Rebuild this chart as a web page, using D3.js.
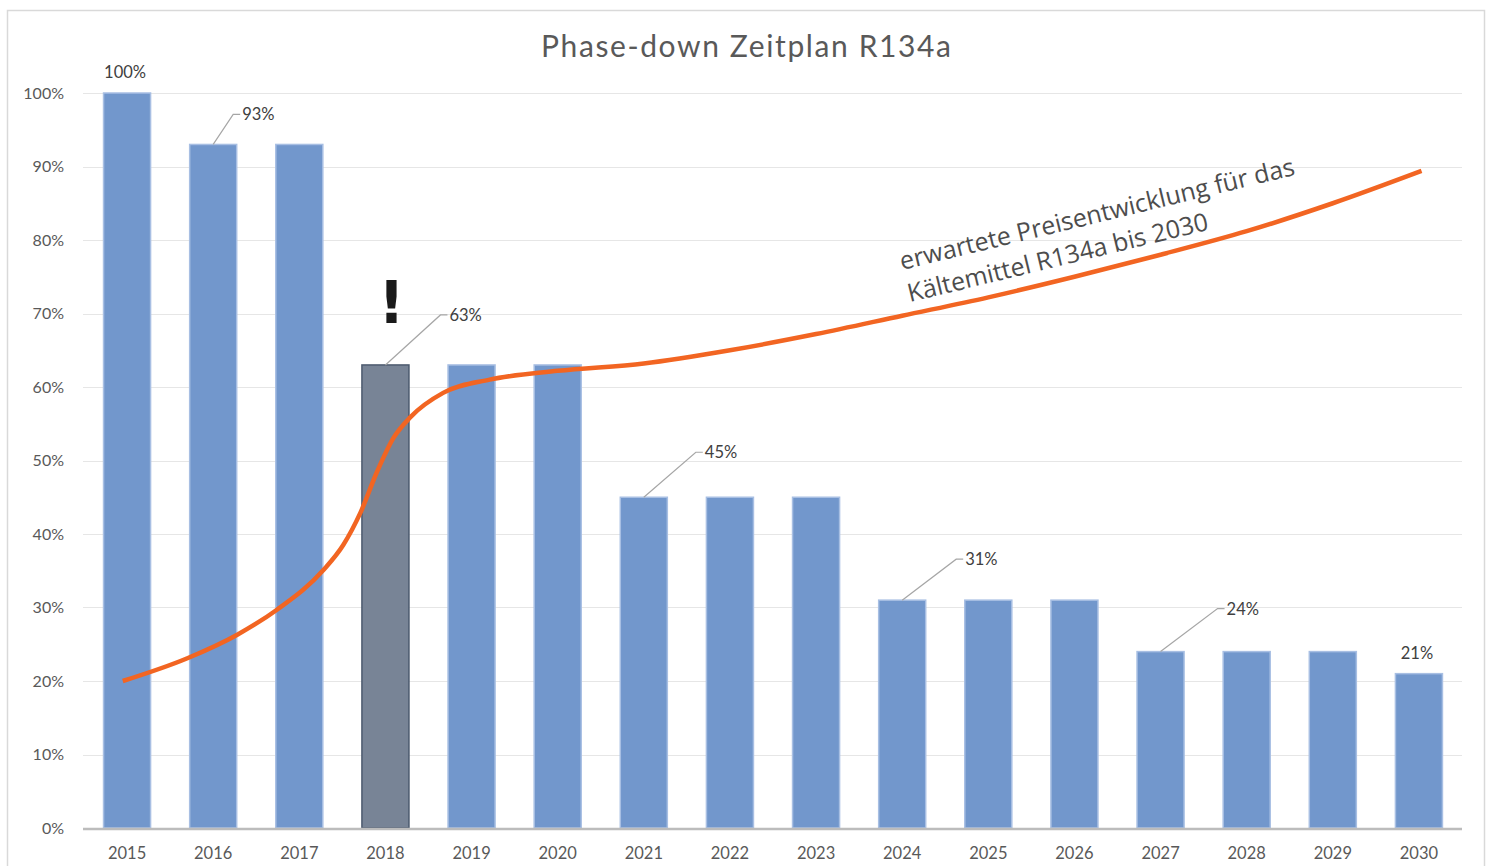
<!DOCTYPE html>
<html>
<head>
<meta charset="utf-8">
<script src="https://cdn.jsdelivr.net/npm/d3@7"></script>
<style>
  body { margin: 0; background: #fff; }
  svg { display: block; }
</style>
</head>
<body>
<div class="chart"></div>
<script>
// Data
const years = [2015, 2016, 2017, 2018, 2019, 2020, 2021, 2022, 2023, 2024, 2025, 2026, 2027, 2028, 2029, 2030];
const quota = [1.00, 0.93, 0.93, 0.63, 0.63, 0.63, 0.45, 0.45, 0.45, 0.31, 0.31, 0.31, 0.24, 0.24, 0.24, 0.21];
const highlightYear = 2018;

// expected price curve (year, share of axis)
const priceYears = [2014.95, 2015.7, 2016.28, 2016.74, 2017.28, 2017.51, 2017.71, 2017.9, 2018.09, 2018.29, 2018.67, 2019.21, 2020, 2021, 2022, 2023, 2024, 2025, 2026, 2027, 2028, 2029, 2030.03];
const priceValues = [0.200, 0.231, 0.263, 0.297, 0.351, 0.385, 0.429, 0.484, 0.530, 0.559, 0.592, 0.610, 0.622, 0.632, 0.650, 0.672, 0.697, 0.722, 0.750, 0.780, 0.812, 0.850, 0.894];

const yTicks = [0, 0.1, 0.2, 0.3, 0.4, 0.5, 0.6, 0.7, 0.8, 0.9, 1.0];
const labelledYears = [2015, 2016, 2018, 2021, 2024, 2027, 2030];

const titleText = "Phase-down Zeitplan R134a";
const noteLines = ["erwartete Preisentwicklung für das", "Kältemittel R134a bis 2030"];

// Layout
const svgWidth = 1486;
const svgHeight = 866;
const plot = { left: 84, right: 1462, top: 93, bottom: 828 };

const svg = d3.select(".chart")
    .append("svg")
    .attr("width", svgWidth)
    .attr("height", svgHeight);

// outer frame
svg.append("rect")
    .attr("x", 7.5).attr("y", 10.5)
    .attr("width", 1477).attr("height", 870)
    .attr("fill", "#fff")
    .attr("stroke", "#d9d9d9")
    .attr("stroke-width", 1.5);

// scales
const x = d3.scaleBand()
    .domain(years)
    .range([plot.left, plot.right])
    .paddingInner(0.454)
    .paddingOuter(0.227);

const bw = x.bandwidth();

const xLin = d3.scaleLinear()
    .domain([years[0], years[years.length - 1]])
    .range([x(years[0]) + bw / 2, x(years[years.length - 1]) + bw / 2]);

const y = d3.scaleLinear()
    .domain([0, 1])
    .range([plot.bottom, plot.top]);

// gridlines
svg.append("g")
    .selectAll("line")
    .data(yTicks.slice(1))
    .enter()
    .append("line")
    .attr("x1", plot.left - 1)
    .attr("x2", plot.right)
    .attr("y1", d => Math.round(y(d)) + 0.5)
    .attr("y2", d => Math.round(y(d)) + 0.5)
    .attr("stroke", "#e6e6e6")
    .attr("stroke-width", 1.2);

// y axis labels
const yAxis = d3.axisLeft(y)
    .tickValues(yTicks)
    .tickFormat(d3.format(".0%"))
    .tickSize(0)
    .tickPadding(0);

const yg = svg.append("g")
    .attr("transform", `translate(64,0)`)
    .call(yAxis);
yg.select(".domain").remove();
yg.selectAll("text")
    .attr("font-family", "Lato, 'Open Sans', sans-serif")
    .attr("font-size", "16px")
    .attr("fill", "#595959");

// bars
svg.append("g")
    .selectAll("rect")
    .data(years)
    .enter()
    .append("rect")
    .attr("x", d => x(d))
    .attr("y", (d, i) => y(quota[i]))
    .attr("width", bw)
    .attr("height", (d, i) => y(0) - y(quota[i]))
    .attr("fill", d => d === highlightYear ? "#788496" : "#7297cc")
    .attr("stroke", d => d === highlightYear ? "#4c5a6e" : "#a8bfe3")
    .attr("stroke-width", 1.5);

// x axis
const xAxis = d3.axisBottom(x).tickSize(0).tickPadding(0);
const xg = svg.append("g")
    .attr("transform", `translate(0, ${plot.bottom})`)
    .call(xAxis);
xg.select(".domain").remove();
xg.selectAll("text")
    .attr("dy", null)
    .attr("y", 31)
    .attr("font-family", "Lato, 'Open Sans', sans-serif")
    .attr("font-size", "16.5px")
    .attr("fill", "#595959");

svg.append("line")
    .attr("x1", plot.left - 1)
    .attr("x2", plot.right)
    .attr("y1", plot.bottom + 1)
    .attr("y2", plot.bottom + 1)
    .attr("stroke", "#bcbcbc")
    .attr("stroke-width", 2.5);

// data labels (leader offsets are styling, in px)
const leader = {
    2016: [20, -30],
    2018: [55, -50],
    2021: [52, -45],
    2024: [54, -41],
    2027: [57, -43]
};

const labels = svg.append("g");
labelledYears.forEach(function (yr) {
    const i = years.indexOf(yr);
    const cx = x(yr) + bw / 2;
    const top = y(quota[i]);
    const txt = d3.format(".0%")(quota[i]);
    if (leader[yr]) {
        const [dx, dy] = leader[yr];
        labels.append("polyline")
            .attr("points", `${cx},${top} ${cx + dx},${top + dy} ${cx + dx + 7},${top + dy}`)
            .attr("fill", "none")
            .attr("stroke", "#a6a6a6")
            .attr("stroke-width", 1.2);
        labels.append("text")
            .attr("x", cx + dx + 9)
            .attr("y", top + dy + 6)
            .attr("font-family", "Lato, 'Open Sans', sans-serif")
            .attr("font-size", "16.5px")
            .attr("fill", "#404040")
            .text(txt);
    } else {
        labels.append("text")
            .attr("x", cx - 2)
            .attr("y", top - 15)
            .attr("text-anchor", "middle")
            .attr("font-family", "Lato, 'Open Sans', sans-serif")
            .attr("font-size", "16.5px")
            .attr("fill", "#404040")
            .text(txt);
    }
});

// exclamation mark over highlighted bar
svg.append("text")
    .attr("x", x(highlightYear) + bw / 2 + 6)
    .attr("y", 323)
    .attr("text-anchor", "middle")
    .attr("font-family", "'DejaVu Sans', sans-serif")
    .attr("font-weight", "bold")
    .attr("font-size", "58px")
    .attr("fill", "#1a1a1a")
    .text("!");

// price curve
const priceLine = d3.line()
    .x((d, i) => xLin(priceYears[i]))
    .y(d => y(d))
    .curve(d3.curveMonotoneX);

svg.append("path")
    .datum(priceValues)
    .attr("d", priceLine)
    .attr("fill", "none")
    .attr("stroke", "#f26522")
    .attr("stroke-width", 4.5);

// rotated note
const note = svg.append("text")
    .attr("transform", "translate(902,270) rotate(-13.6)")
    .attr("font-family", "'Open Sans', sans-serif")
    .attr("font-size", "25px")
    .attr("fill", "#4d4d4d");

noteLines.forEach(function (line, i) {
    note.append("tspan")
        .attr("x", 0)
        .attr("y", i * 33)
        .text(line);
});

// title
svg.append("text")
    .attr("x", 541)
    .attr("y", 57)
    .attr("font-family", "Lato, 'Open Sans', sans-serif")
    .attr("font-size", "30px")
    .attr("fill", "#595959")
    .attr("textLength", 410)
    .attr("lengthAdjust", "spacing")
    .text(titleText);
</script>
</body>
</html>
